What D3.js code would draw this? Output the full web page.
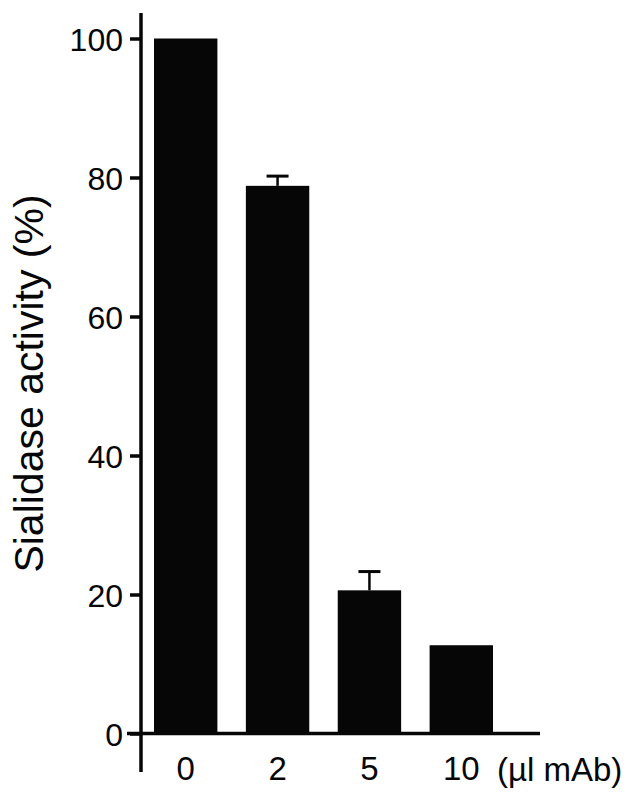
<!DOCTYPE html>
<html>
<head>
<meta charset="utf-8">
<script src="https://cdn.jsdelivr.net/npm/d3@7"></script>
<style>
  html, body { margin: 0; padding: 0; background: #fff; }
  svg { display: block; font-family: "Liberation Sans", Arial, Helvetica, sans-serif; }
</style>
</head>
<body>
<svg id="chart" width="640" height="800"></svg>
<script>
const categories = ["0", "2", "5", "10"];
const values = [100, 78.8, 20.6, 12.7];
const errors = [0, 1.4, 2.7, 0];
const yTicks = [0, 20, 40, 60, 80, 100];
const xUnitLabel = "(µl mAb)";
const yTitle = "Sialidase activity (%)";

const svg = d3.select("#chart");
const ink = "#060606";

const x = d3.scaleBand().domain(categories).range([154, 493]).paddingInner(0.31).paddingOuter(0);
const y = d3.scaleLinear().domain([0, 100]).range([733.5, 38.5]);

// bars
svg.append("g").selectAll("rect").data(values).join("rect")
  .attr("x", (d, i) => x(categories[i]))
  .attr("width", x.bandwidth())
  .attr("y", d => y(d))
  .attr("height", d => y(0) - y(d))
  .attr("fill", ink);

// error bars
const eb = svg.append("g").attr("stroke", ink).attr("fill", "none");
values.forEach((v, i) => {
  if (!errors[i]) return;
  const cx = x(categories[i]) + x.bandwidth() / 2;
  eb.append("line").attr("x1", cx).attr("x2", cx).attr("y1", y(v)).attr("y2", y(v + errors[i])).attr("stroke-width", 2.5);
  eb.append("line").attr("x1", cx - 11).attr("x2", cx + 11).attr("y1", y(v + errors[i])).attr("y2", y(v + errors[i])).attr("stroke-width", 3);
});

// y axis
const yAxis = d3.axisLeft(y).tickValues(yTicks).tickSize(11).tickPadding(7).tickFormat(d3.format("d"));
const gy = svg.append("g").attr("transform", "translate(141,0)").call(yAxis);
gy.select(".domain").remove();
gy.selectAll(".tick line").attr("stroke", ink).attr("stroke-width", 3.5);
gy.selectAll(".tick text").attr("fill", ink).attr("font-size", 32).attr("dy", "0.36em")
  .style("font-family", "'Liberation Sans', Arial, sans-serif");

svg.append("line").attr("x1", 141).attr("x2", 141).attr("y1", 13).attr("y2", 772)
  .attr("stroke", ink).attr("stroke-width", 3.5);
svg.append("line").attr("x1", 127).attr("x2", 540).attr("y1", y(0)).attr("y2", y(0))
  .attr("stroke", ink).attr("stroke-width", 3.5);

// x axis labels
const xAxis = d3.axisBottom(x).tickSize(0).tickPadding(0);
const gx = svg.append("g").attr("transform", "translate(0,757)").call(xAxis);
gx.select(".domain").remove();
gx.selectAll(".tick text").attr("fill", ink).attr("font-size", 33).attr("dy", "0.71em")
  .style("font-family", "'Liberation Sans', Arial, sans-serif");

svg.append("text").attr("x", 497).attr("y", 781).attr("font-size", 33).attr("fill", ink)
  .text(xUnitLabel);

// y title
svg.append("text")
  .attr("transform", "translate(43,383.5) rotate(-90)")
  .attr("text-anchor", "middle")
  .attr("font-size", 41)
  .attr("fill", ink)
  .text(yTitle);
</script>
</body>
</html>
